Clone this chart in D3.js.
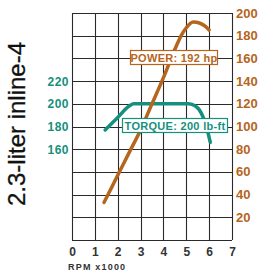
<!DOCTYPE html>
<html>
<head>
<meta charset="utf-8">
<script src="https://cdn.jsdelivr.net/npm/d3@7"></script>
<style>
  html, body { margin: 0; padding: 0; background: #fff; }
  svg { display: block; }
</style>
</head>
<body>
<div id="chart"></div>
<script>
const rpmTicks = [0, 1, 2, 3, 4, 5, 6, 7];
const powerTicks = [20, 40, 60, 80, 100, 120, 140, 160, 180, 200];
const torqueTicks = [160, 180, 200, 220];

const powerRpm = [1.4, 2.0, 2.5, 3.0, 3.5, 4.0, 4.5, 4.8, 5.0, 5.3, 5.6, 5.85, 6.0];
const powerHp  = [33, 57, 77, 97, 120, 143, 168, 181, 187, 192, 191, 188, 185];

const torqueRpm = [1.45, 2.0, 2.5, 2.7, 3.5, 4.5, 5.1, 5.4, 5.65, 5.85, 6.05];
const torqueLbft = [177, 188, 198, 200, 200, 200, 200, 198, 192, 182, 166];

const W = 263, H = 274;
const BROWN = "#b5651d", TEAL = "#16907e", GRID = "#2a2a2a";
const FONT = "'Liberation Sans', Arial, sans-serif";

const svg = d3.select("#chart").append("svg")
    .attr("width", W).attr("height", H)
    .style("font-family", FONT);

const x = d3.scaleLinear().domain([0, 7]).range([72, 232]);
const yP = d3.scaleLinear().domain([0, 200]).range([240, 13]);
const yT = d3.scaleLinear().domain([80, 280]).range([240, 13]);

// grid
const grid = svg.append("g").attr("stroke", GRID).attr("stroke-width", 1.1);
grid.selectAll(".v").data(rpmTicks).join("line")
    .attr("x1", d => Math.round(x(d)) + 0.5).attr("x2", d => Math.round(x(d)) + 0.5)
    .attr("y1", yP(200)).attr("y2", yP(0));
grid.selectAll(".h").data([0].concat(powerTicks)).join("line")
    .attr("y1", d => Math.round(yP(d)) + 0.5).attr("y2", d => Math.round(yP(d)) + 0.5)
    .attr("x1", x(0)).attr("x2", x(7));

// bottom labels
svg.append("g").selectAll("text").data(rpmTicks).join("text")
    .attr("x", d => x(d) + 0.5).attr("y", 256)
    .attr("text-anchor", "middle")
    .attr("font-size", 12).attr("font-weight", "bold").attr("fill", "#333")
    .text(d => d);
svg.append("text").attr("x", 68).attr("y", 270)
    .attr("font-size", 9).attr("font-weight", "bold").attr("fill", "#333")
    .attr("letter-spacing", 1.2)
    .text("RPM x1000");

// right (power) labels
svg.append("g").selectAll("text").data(powerTicks).join("text")
    .attr("x", 236).attr("y", d => yP(d) + 4.5)
    .attr("font-size", 13).attr("font-weight", "bold").attr("fill", BROWN)
    .text(d => d);

// left (torque) labels
svg.append("g").selectAll("text").data(torqueTicks).join("text")
    .attr("x", 69).attr("y", d => yT(d) + 4.5)
    .attr("text-anchor", "end")
    .attr("font-size", 12).attr("font-weight", "bold").attr("fill", TEAL)
    .attr("letter-spacing", 0.5)
    .text(d => d);

// title
svg.append("text")
    .attr("transform", "translate(25,124) rotate(-90)")
    .attr("text-anchor", "middle")
    .attr("font-size", 24).attr("fill", "#111")
    .attr("stroke", "#111").attr("stroke-width", 0.3)
    .text("2.3-liter inline-4");

// curves
const torqueData = torqueRpm.map((r, i) => [r, torqueLbft[i]]);
const powerData = powerRpm.map((r, i) => [r, powerHp[i]]);

svg.append("path").datum(torqueData)
    .attr("fill", "none").attr("stroke", TEAL).attr("stroke-width", 3.5)
    .attr("stroke-linecap", "round").attr("stroke-linejoin", "round")
    .attr("d", d3.line().x(d => x(d[0])).y(d => yT(d[1])).curve(d3.curveMonotoneX));

svg.append("path").datum(powerData)
    .attr("fill", "none").attr("stroke", BROWN).attr("stroke-width", 3.5)
    .attr("stroke-linecap", "round").attr("stroke-linejoin", "round")
    .attr("d", d3.line().x(d => x(d[0])).y(d => yP(d[1])).curve(d3.curveMonotoneX));

// callout boxes
function callout(x0, y0, w, h, color, label) {
    svg.append("rect").attr("x", x0 + 0.5).attr("y", y0 + 0.5)
        .attr("width", w).attr("height", h)
        .attr("fill", "#fff").attr("stroke", color).attr("stroke-width", 1.2);
    svg.append("text").attr("x", x0 + w / 2 + 0.5).attr("y", y0 + h / 2 + 4.5)
        .attr("text-anchor", "middle")
        .attr("font-size", 11).attr("font-weight", "bold").attr("fill", color)
        .attr("letter-spacing", 0.3)
        .text(label);
}
callout(130, 50, 87, 14, BROWN, "POWER: 192 hp");
callout(122, 118, 105, 14, TEAL, "TORQUE: 200 lb-ft");
</script>
</body>
</html>
